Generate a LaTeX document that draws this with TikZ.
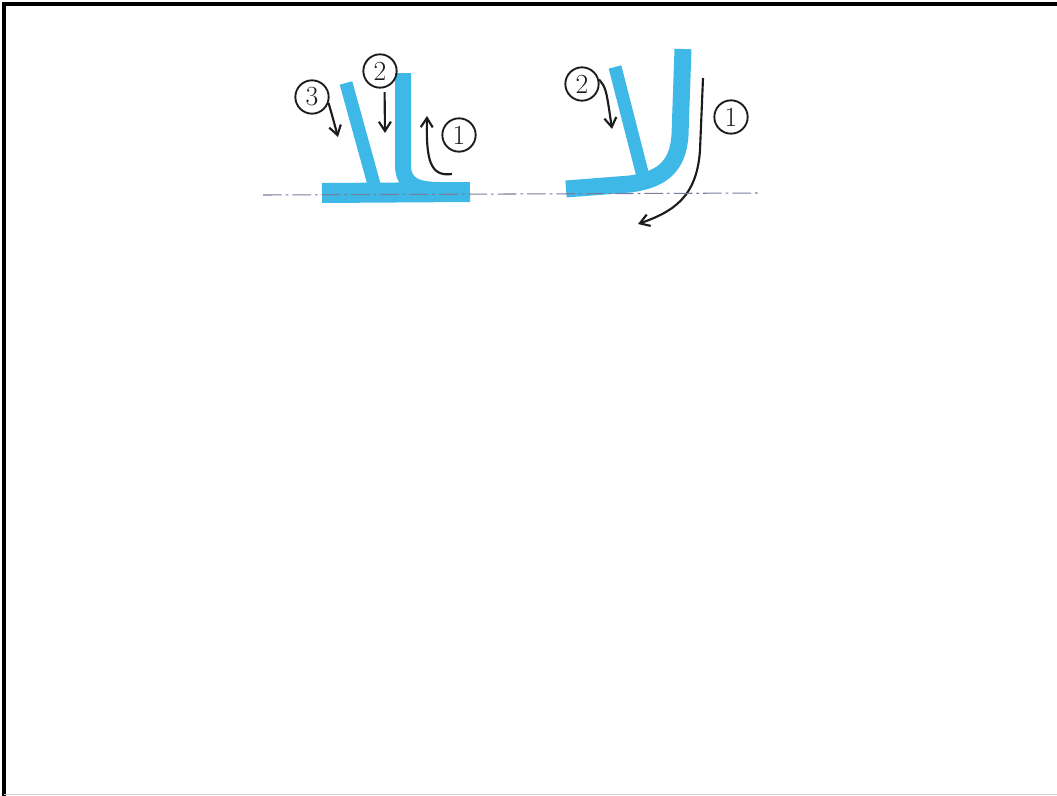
\documentclass[tikz,border=0pt]{standalone}
\usetikzlibrary{arrows.meta}
\definecolor{marker}{RGB}{62,184,230}
\definecolor{pencil}{RGB}{28,28,28}
\definecolor{rule}{RGB}{120,126,160}

\begin{document}
\begin{tikzpicture}[x=.75pt,y=-.75pt,>={Straight Barb[length=7pt,width=9pt]},
  markerline/.style={marker,line width=#1*.75pt,line join=round},
  num/.style={circle,draw=pencil,line width=1.4pt,inner sep=0pt,minimum size=25pt,font=\huge,text=pencil},
  hand/.style={pencil,line width=1.6pt,->}]
\useasboundingbox (0,0) rectangle (1057,796);
% frame
\draw[line width=2.4pt] (4,796) -- (4,4) -- (1057,4);
\draw[gray!35,line width=1pt] (4,794.5) -- (1057,794.5);

% left sign
\draw[markerline=20] (322,193) -- (470,192);
\draw[markerline=13] (346,83) -- (375,188);
\draw[markerline=16] (403,73) -- (403,165) .. controls (403,184) and (415,190) .. (440,190);
\node[num] (l3) at (312,97) {3};
\node[num] (l2) at (380,71) {2};
\node[num] (l1) at (459,135) {1};
\coordinate (l3end) at (338,137);
\coordinate (l2end) at (385,133);
\coordinate (l1tail) at (452,174);
\coordinate (l1head) at (427,116);
\draw[hand] (l3.-20) .. controls (332,115) .. (l3end);
\draw[hand,shorten <=3pt] (l2.-75) -- (l2end);
\draw[hand] (l1tail) .. controls (430,177) and (426,160) .. (l1head);

% right sign
\draw[markerline=13] (615,67) -- (645,184);
\draw[markerline=17] (683,49) -- (680,135) .. controls (678,168) and (660,180) .. (630,184) -- (566,189);
\node[num] (r2) at (582,84) {2};
\node[num] (r1) at (731,117) {1};
\coordinate (r2end) at (612,129);
\coordinate (r1tail) at (703,78);
\coordinate (r1head) at (638,224);
\draw[hand] (r2.15) .. controls (606,88) .. (r2end);
\draw[hand] (r1tail) -- (700,150) .. controls (697,198) and (672,212) .. (r1head);

% base line
\draw[rule,line width=.8pt,dash pattern=on 14pt off 3pt on 2pt off 3pt] (263,195) -- (760,193);
\end{tikzpicture}
\end{document}
